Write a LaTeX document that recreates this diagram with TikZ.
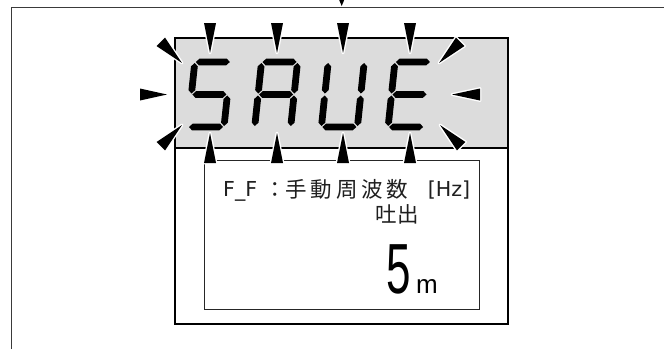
\documentclass[tikz,border=0pt]{standalone}
\usepackage{fontspec}
\usepackage{graphicx}
\newfontfamily\cjk{Noto Sans CJK JP}
\newfontfamily\lib{Liberation Sans}
\newfontfamily\dvs{DejaVu Sans}
\definecolor{lcdgray}{HTML}{DCDCDC}
\definecolor{framegray}{HTML}{3A3A3A}
% 7-segment pieces: horizontal (x1,x2,y) and vertical (x,y1,y2)
\newcommand\hs[3]{\fill (#1+1,#3) -- (#1+4.4,#3-3.4) -- (#2-4.4,#3-3.4) -- (#2-1,#3) -- (#2-4.4,#3+3.4) -- (#1+4.4,#3+3.4) -- cycle;}
\newcommand\vs[3]{\fill (#1,#2+1) -- (#1+3.4,#2+4.4) -- (#1+3.4,#3-4.4) -- (#1,#3-1) -- (#1-3.4,#3-4.4) -- (#1-3.4,#2+4.4) -- cycle;}
\newcommand\segA{\hs{0}{36}{-65}}
\newcommand\segB{\vs{36}{-65}{-32.5}}
\newcommand\segC{\vs{36}{-32.5}{0}}
\newcommand\segD{\hs{0}{36}{0}}
\newcommand\segE{\vs{0}{-32.5}{0}}
\newcommand\segF{\vs{0}{-65}{-32.5}}
\newcommand\segG{\hs{0}{36}{-32.5}}
% blinking marker: tip x, tip y, angle, length
\newcommand\mk[4]{\begin{scope}[shift={(#1,#2)},rotate=#3]
  \draw[white,line width=2.8,line join=round] (0,0) -- (-#4,6) -- (-#4,-6) -- cycle;
  \fill[black] (0,0) -- (-#4,6) -- (-#4,-6) -- cycle;
\end{scope}}
\newcommand\cb[1]{\makebox[25.2pt]{#1}}
\begin{document}
\begin{tikzpicture}[x=1pt,y=-1pt,
  txt/.style={inner sep=0pt,font=\cjk\fontsize{21.5}{21.5}\selectfont,text=black!88},
  lat/.style={inner sep=0pt,font=\dvs\fontsize{20.6}{20.6}\selectfont,text=black!88}]
\useasboundingbox (0,0) rectangle (664,349);
\fill[white] (0,0) rectangle (664,349);
% outer frame (top and left edges only)
\draw[framegray,line width=1.2pt] (11.7,349) -- (11.7,7.4) -- (664,7.4);
\fill[black] (339.2,0) -- (344.2,0) -- (341.7,6) -- cycle;
% display
\draw[line width=2pt] (175,148) rectangle (508.3,323.5);
\filldraw[fill=lcdgray,line width=2pt] (175,38.3) rectangle (508.3,148);
\draw[line width=1pt,black!85] (204.7,160) rectangle (479.3,309.3);
% texts
\node[lat,anchor=base west] (ff) at (223,196.7) {F\_F};
\node[txt,anchor=base] (colon) at (275,197) {：};
\node[txt,anchor=base west] (jp) at (283.6,197) {\cb{手}\cb{動}\cb{周}\cb{波}\cb{数}};
\node[lat,anchor=base west] (hz) at (427.6,196.7) {[Hz]};
\node[txt,anchor=base] (tod) at (397,222) {\makebox[22pt]{吐}\makebox[22pt]{出}};
\node[anchor=base,inner sep=0pt,font=\lib\fontsize{71}{71}\selectfont] (five) at (398.5,293) {\scalebox{0.62}[1]{5}};
\node[anchor=base,inner sep=0pt,font=\lib\fontsize{26}{26}\selectfont] (unit) at (427,293) {m};
% SAVE in seven segments
\begin{scope}[shift={(188,127)},xslant=0.105] \segA\segF\segG\segC\segD \end{scope}
\begin{scope}[shift={(254.7,127)},xslant=0.105] \segA\segB\segC\segE\segF\segG \end{scope}
\begin{scope}[shift={(321.4,127)},xslant=0.105] \segB\segC\segD\segE\segF \end{scope}
\begin{scope}[shift={(388.1,127)},xslant=0.105] \segA\segD\segE\segF\segG \end{scope}
% blink markers
\foreach \x in {210,277,343,410} {\mk{\x}{53}{-90}{30}}
\foreach \x in {210,277,343,410} {\mk{\x}{133}{90}{30}}
\mk{167}{94.5}{0}{27}
\mk{452}{94.5}{180}{28}
\mk{182}{63}{-45}{30}
\mk{182}{125}{45}{30}
\mk{439}{63}{-135}{30}
\mk{440}{125}{135}{30}
\end{tikzpicture}
\end{document}
